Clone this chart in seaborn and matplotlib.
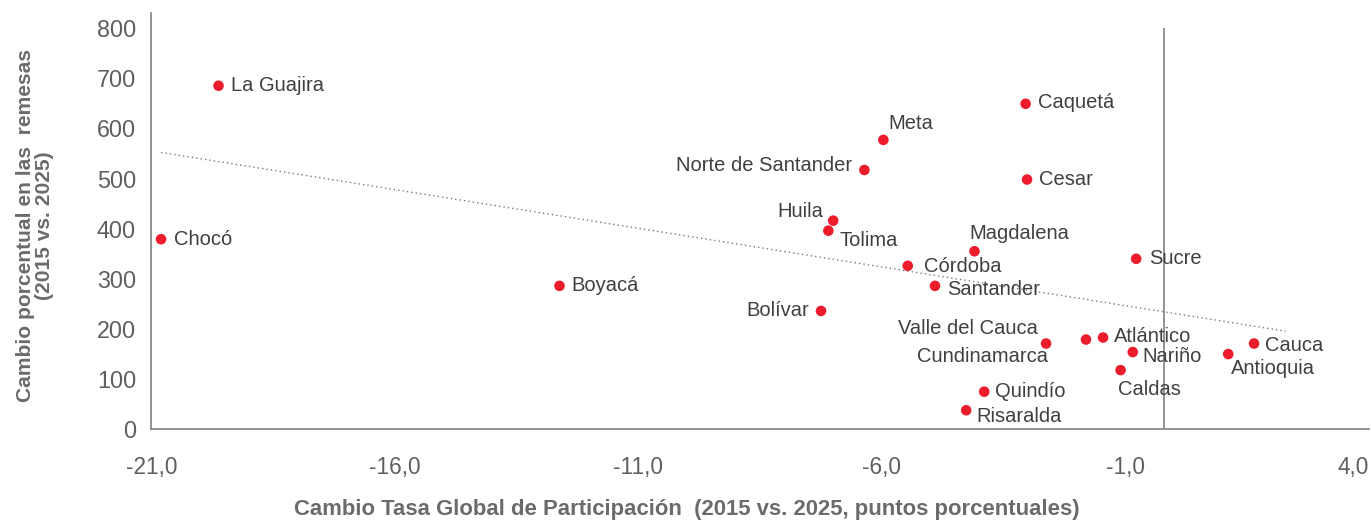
import numpy as np
import pandas as pd
import matplotlib
matplotlib.use("Agg")
import matplotlib.pyplot as plt
from matplotlib.ticker import FuncFormatter, FixedLocator
import seaborn as sns

# ---------------- data ----------------
departamentos = ["La Guajira", "Chocó", "Boyacá", "Bolívar", "Huila", "Tolima", "Meta",
                 "Norte de Santander", "Córdoba", "Santander", "Magdalena", "Caquetá",
                 "Cesar", "Valle del Cauca", "Cundinamarca", "Atlántico", "Nariño",
                 "Caldas", "Quindío", "Risaralda", "Sucre", "Antioquia", "Cauca"]
cambio_tgp = [-19.62, -20.80, -12.62, -7.25, -7.00, -7.10, -5.97,
              -6.36, -5.47, -4.91, -4.10, -3.05,
              -3.02, -2.63, -1.81, -1.46, -0.85,
              -1.10, -3.90, -4.27, -0.78, 1.11, 1.64]
cambio_remesas = [685, 379, 286, 236, 416, 396, 577,
                  517, 326, 286, 355, 649,
                  498, 171, 179, 183, 154,
                  118, 75, 38, 340, 150, 171]
x_ticks = [-21, -16, -11, -6, -1, 4]
y_ticks = [0, 100, 200, 300, 400, 500, 600, 700, 800]
ref_line_x = -0.2
trend_forward = 0.65

# label placement (pixel offsets from the point, ha, va)
label_pos = {
    "La Guajira": (12, 0, "left", "center"),
    "Chocó": (13, 0, "left", "center"),
    "Boyacá": (12, 0, "left", "center"),
    "Bolívar": (-12, 0, "right", "center"),
    "Huila": (-10, 9, "right", "center"),
    "Tolima": (11, -10, "left", "center"),
    "Meta": (5, 16, "left", "center"),
    "Norte de Santander": (-12, 4, "right", "center"),
    "Córdoba": (16, -1, "left", "center"),
    "Santander": (12, -4, "left", "center"),
    "Magdalena": (-5, 18, "left", "center"),
    "Caquetá": (12, 1, "left", "center"),
    "Cesar": (12, 0, "left", "center"),
    "Valle del Cauca": (-8, 15, "right", "center"),
    "Cundinamarca": (-38, -17, "right", "center"),
    "Atlántico": (11, 1, "left", "center"),
    "Nariño": (10, -4, "left", "center"),
    "Caldas": (-3, -19, "left", "center"),
    "Quindío": (11, 0, "left", "center"),
    "Risaralda": (10, -6, "left", "center"),
    "Sucre": (13, 0, "left", "center"),
    "Antioquia": (3, -14, "left", "center"),
    "Cauca": (11, -2, "left", "center"),
}

df = pd.DataFrame({"dep": departamentos, "x": cambio_tgp, "y": cambio_remesas})

# ---------------- style ----------------
sns.set_style("white")
plt.rcParams["font.family"] = ["Liberation Sans", "DejaVu Sans"]

W, H = 1371, 522
fig = plt.figure(figsize=(W / 100, H / 100), dpi=100)
ax = fig.add_axes([151.3 / W, 1 - 429.3 / H, (1369 - 151.3) / W, (429.3 - 13) / H])

red = "#EC1C2D"
grey_axis = "#808080"

# trend line (OLS)
slope, intercept = np.polyfit(df["x"], df["y"], 1)
tx = np.array([df["x"].min(), df["x"].max() + trend_forward])
ax.plot(tx, slope * tx + intercept, color="#7a7a7a", lw=1.0, linestyle=(0, (1, 2.2)), zorder=1)

# reference vertical line
ax.vlines(ref_line_x, 0, 800, color=grey_axis, lw=1.2, zorder=1)

sns.scatterplot(data=df, x="x", y="y", ax=ax, color=red, s=58, edgecolor="none", zorder=3, legend=False)

for d, xv, yv in zip(departamentos, cambio_tgp, cambio_remesas):
    dx, dy, ha, va = label_pos[d]
    ax.annotate(d, (xv, yv), xytext=(dx, dy), textcoords="offset pixels",
                ha=ha, va=va, fontsize=14.5, color="#404040", zorder=4)

ax.set_xlim(-21, 4)
ax.set_ylim(0, 830)
ax.xaxis.set_major_locator(FixedLocator(x_ticks))
ax.yaxis.set_major_locator(FixedLocator(y_ticks))
ax.xaxis.set_major_formatter(FuncFormatter(lambda v, p: f"{v:.1f}".replace(".", ",")))
ax.yaxis.set_major_formatter(FuncFormatter(lambda v, p: f"{int(v)}"))
ax.tick_params(axis="x", length=0, pad=19, labelsize=16.3, labelcolor="#5f5f5f")
ax.tick_params(axis="y", length=0, pad=11, labelsize=16.8, labelcolor="#5f5f5f")
ax.set_xlabel("")
ax.set_ylabel("")

for s in ["top", "right"]:
    ax.spines[s].set_visible(False)
for s in ["left", "bottom"]:
    ax.spines[s].set_color(grey_axis)
    ax.spines[s].set_linewidth(1.2)

fig.canvas.draw()
lbls = ax.get_xticklabels()
lbls[-1].set_ha("right")

fig.text(687 / W, 1 - 509 / H, "Cambio Tasa Global de Participación  (2015 vs. 2025, puntos porcentuales)",
         ha="center", va="center", fontsize=15.9, fontweight="bold", color="#6b6b6b")
fig.text(35 / W, 1 - 226 / H, "Cambio porcentual en las  remesas\n(2015 vs. 2025)",
         ha="center", va="center", rotation=90, multialignment="center",
         fontsize=15.1, fontweight="bold", color="#6b6b6b", linespacing=1.0)

fig.savefig("out.png", dpi=100)
